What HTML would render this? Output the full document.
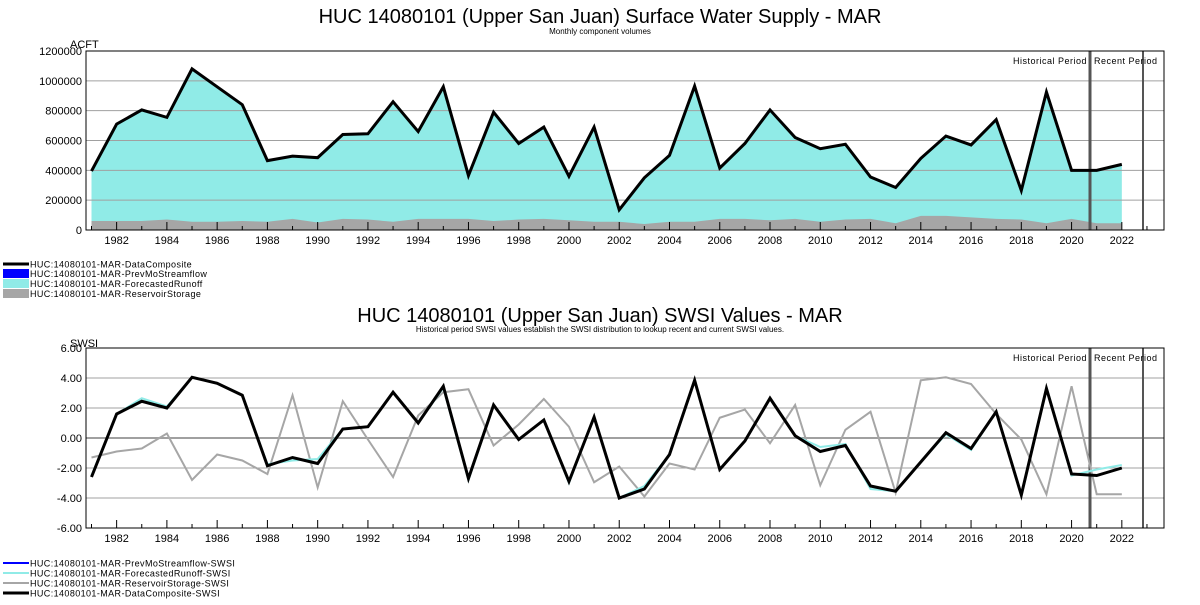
<!DOCTYPE html>
<html><head><meta charset="utf-8"><style>
body{margin:0;background:#fff;width:1200px;height:600px;overflow:hidden;font-family:"Liberation Sans",sans-serif}
</style></head><body>
<svg id="s" width="1200" height="600" xmlns="http://www.w3.org/2000/svg" font-family="Liberation Sans, sans-serif"></svg>
<script>
(function(){
const S=document.getElementById('s');let h='';
const X=y=>91.5+(y-1981)*25.13;
const yrs=[];for(let y=1981;y<=2022;y++)yrs.push(y);
const vol=[395,710,805,755,1080,960,840,465,495,485,640,645,860,660,960,365,790,580,690,360,690,135,350,500,965,415,580,805,620,545,575,355,285,480,630,570,740,265,925,400,400,440];
const res=[60,60,60,70,55,55,60,55,75,50,75,70,55,75,75,75,60,70,75,65,55,55,40,55,55,75,75,65,75,55,70,75,45,95,95,85,75,70,45,75,45,45];
const comp=[-2.6,1.6,2.45,2.0,4.05,3.65,2.85,-1.85,-1.3,-1.7,0.6,0.75,3.05,1.0,3.45,-2.7,2.2,-0.1,1.2,-2.9,1.4,-4.0,-3.4,-1.1,3.85,-2.1,-0.2,2.65,0.15,-0.9,-0.5,-3.2,-3.55,-1.6,0.35,-0.7,1.75,-3.8,3.3,-2.4,-2.5,-2.0];
const rs=[-1.3,-0.9,-0.7,0.3,-2.8,-1.1,-1.5,-2.4,2.85,-3.3,2.45,-0.1,-2.6,1.5,3.05,3.25,-0.5,0.9,2.6,0.75,-2.95,-1.9,-3.9,-1.7,-2.1,1.35,1.9,-0.35,2.2,-3.15,0.55,1.75,-3.65,3.85,4.05,3.6,1.6,-0.1,-3.75,3.45,-3.75,-3.75];
const dd=[0.1,0,0.2,0.1,0,0,0,0.1,-0.2,0.3,0,0,0,0,-0.1,-0.1,0,0,0,-0.1,0,0,0.2,0,0,0,0,0,0,0.3,0.1,-0.2,0,0,-0.1,-0.1,0,0,0.1,-0.1,0.4,0.2];
const fc=comp.map((v,i)=>dd[i]+v);
function frame(t,b,labels,yf){
  labels.forEach(([v,l])=>{const y=yf(v);h+=`<line x1="86" x2="1164" y1="${y}" y2="${y}" stroke="#a0a0a0" stroke-width="${v===0&&l.includes('.')?2:1}"/><text x="82" y="${y+4}" font-size="11" text-anchor="end">${l}</text>`;});
  h+=`<line x1="1090" x2="1090" y1="${t}" y2="${b}" stroke="#555" stroke-width="3"/><line x1="1143" x2="1143" y1="${t}" y2="${b}" stroke="#555" stroke-width="2"/>`;
  h+=`<rect x="86" y="${t}" width="1078" height="${b-t}" fill="none" stroke="#000"/>`;
  for(let y=1981;y<=2023;y++){const x=X(y);h+=`<line x1="${x}" x2="${x}" y1="${b}" y2="${b-(y%2==0?8:4)}" stroke="#000"/>`;if(y%2==0&&y<=2022)h+=`<text x="${x}" y="${b+14}" font-size="11" text-anchor="middle">${y}</text>`;}
  h+=`<text x="1087" y="${t+13}" font-size="9" text-anchor="end" letter-spacing=".5">Historical Period</text><text x="1094" y="${t+13}" font-size="9" letter-spacing=".5">Recent Period</text>`;
}
const yT=v=>230-v/1200*179;
h+=`<text x="600" y="23" font-size="20" text-anchor="middle">HUC 14080101 (Upper San Juan) Surface Water Supply - MAR</text><text x="600" y="34" font-size="8" text-anchor="middle">Monthly component volumes</text><text x="70" y="48" font-size="11">ACFT</text>`;
let p=`M${X(1981)},230 `+vol.map((v,i)=>`L${X(yrs[i])},${yT(v)}`).join(' ')+` L${X(2022)},230Z`;
h+=`<path d="${p}" fill="#90ebe7"/>`;
p=`M${X(1981)},230 `+res.map((v,i)=>`L${X(yrs[i])},${yT(v)}`).join(' ')+` L${X(2022)},230Z`;
h+=`<path d="${p}" fill="#a6a6a6"/>`;
frame(51,230,[[0,'0'],[200,'200000'],[400,'400000'],[600,'600000'],[800,'800000'],[1000,'1000000'],[1200,'1200000']],yT);
h+=`<polyline points="${vol.map((v,i)=>X(yrs[i])+','+yT(v)).join(' ')}" fill="none" stroke="#000" stroke-width="3"/>`;
const leg=(y,c,t,hh)=>{h+=`<rect x="3" y="${y-hh/2}" width="26" height="${hh}" fill="${c}"/><text x="30" y="${y+3.5}" font-size="9" letter-spacing=".4">${t}</text>`;};
leg(264,'#000','HUC:14080101-MAR-DataComposite',3);leg(273.5,'#0000ff','HUC:14080101-MAR-PrevMoStreamflow',9);leg(283.5,'#90ebe7','HUC:14080101-MAR-ForecastedRunoff',9);leg(293.5,'#a6a6a6','HUC:14080101-MAR-ReservoirStorage',9);
const yB=v=>438-v*15;
h+=`<text x="600" y="322" font-size="20" text-anchor="middle">HUC 14080101 (Upper San Juan) SWSI Values - MAR</text><text x="600" y="332" font-size="8" text-anchor="middle">Historical period SWSI values establish the SWSI distribution to lookup recent and current SWSI values.</text><text x="70" y="347" font-size="11">SWSI</text>`;
frame(348,528,[[-6,'-6.00'],[-4,'-4.00'],[-2,'-2.00'],[0,'0.00'],[2,'2.00'],[4,'4.00'],[6,'6.00']],yB);
const pl=(d,c,w)=>{h+=`<polyline points="${d.map((v,i)=>X(yrs[i])+','+yB(v)).join(' ')}" fill="none" stroke="${c}" stroke-width="${w}"/>`;};
pl(rs,'#a6a6a6',2);pl(fc,'#90ebe7',2);pl(comp,'#000',3);
const leg2=(y,c,t,w)=>{h+=`<line x1="3" x2="29" y1="${y}" y2="${y}" stroke="${c}" stroke-width="${w}"/><text x="30" y="${y+3.5}" font-size="9" letter-spacing=".4">${t}</text>`;};
leg2(563,'#0000ff','HUC:14080101-MAR-PrevMoStreamflow-SWSI',2);leg2(573,'#90ebe7','HUC:14080101-MAR-ForecastedRunoff-SWSI',2);leg2(583,'#a6a6a6','HUC:14080101-MAR-ReservoirStorage-SWSI',2);leg2(593,'#000','HUC:14080101-MAR-DataComposite-SWSI',3);
S.innerHTML=h;
})();
</script>
</body></html>
